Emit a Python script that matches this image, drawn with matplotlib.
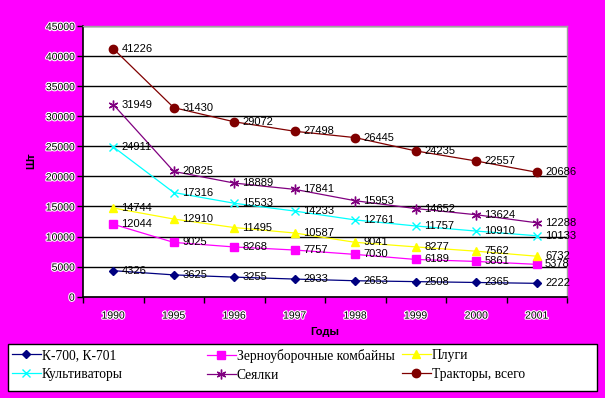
import matplotlib
matplotlib.use("Agg")
import matplotlib.pyplot as plt
import matplotlib.patheffects as pe
from matplotlib.patches import Rectangle

years = ["1990", "1995", "1996", "1997", "1998", "1999", "2000", "2001"]
k700 = [4326, 3625, 3255, 2933, 2653, 2508, 2365, 2222]
combines = [12044, 9025, 8268, 7757, 7030, 6189, 5861, 5378]
plows = [14744, 12910, 11495, 10587, 9041, 8277, 7562, 6732]
cultivators = [24911, 17316, 15533, 14233, 12761, 11757, 10910, 10133]
seeders = [31949, 20825, 18889, 17841, 15953, 14652, 13624, 12288]
tractors = [41226, 31430, 29072, 27498, 26445, 24235, 22557, 20686]

series = [
    ("К-700, К-701", k700, "#000080", "D", 4),
    ("Зерноуборочные комбайны", combines, "#FF00FF", "s", 6),
    ("Плуги", plows, "#FFFF00", "^", 6),
    ("Культиваторы", cultivators, "#00FFFF", "x", 6),
    ("Сеялки", seeders, "#800080", (6, 2, 0), 7),
    ("Тракторы, всего", tractors, "#800000", "o", 6),
]

fig = plt.figure(figsize=(6.05, 3.98), dpi=100, facecolor="#FF00FF")
ax = fig.add_axes([83 / 605, 1 - 296.7 / 398, 484 / 605, (296.7 - 26) / 398])
ax.set_facecolor("white")

x = list(range(len(years)))
handles = {}
for name, vals, col, mk, ms in series:
    (ln,) = ax.plot(x, vals, color=col, lw=0.9, marker=mk, ms=ms,
                    markerfacecolor=col, markeredgecolor=col, markeredgewidth=1.0,
                    zorder=3)
    handles[name] = ln
    for xi, v in zip(x, vals):
        ax.annotate(str(v), (xi, v), xytext=(6, 0), textcoords="offset points",
                    ha="left", va="center", fontsize=8, family="Liberation Sans",
                    color="black", zorder=4, annotation_clip=False)

ax.set_ylim(0, 45000)
ax.set_xlim(-0.5, len(years) - 0.5)
ax.set_yticks(range(0, 45001, 5000))
ax.yaxis.grid(True, color="black", lw=1.0)
ax.set_axisbelow(True)

ax.set_xticks(x)
ax.set_xticklabels(years)
ax.set_xticks([i - 0.5 for i in range(len(years) + 1)], minor=True)
ax.tick_params(axis="x", which="major", length=0, pad=10)
ax.tick_params(axis="x", which="minor", length=4, width=1, color="black", direction="out")
ax.tick_params(axis="y", length=4, width=1, color="black", direction="out", pad=2)

stroke = [pe.withStroke(linewidth=1.6, foreground="white")]
for lab in ax.get_xticklabels() + ax.get_yticklabels():
    lab.set_fontsize(7.5)
    lab.set_family("Liberation Sans")
    lab.set_path_effects(stroke)

for s in ["left", "bottom"]:
    ax.spines[s].set_color("black")
    ax.spines[s].set_linewidth(1.2)
for s in ["top", "right"]:
    ax.spines[s].set_color("#A0A0A0")
    ax.spines[s].set_linewidth(1.0)

fig.text(325 / 605, 1 - 332 / 398, "Годы", ha="center", va="center",
         fontsize=8, fontweight="bold", family="Liberation Sans")
fig.text(31 / 605, 1 - 161 / 398, "Шт", ha="center", va="center", rotation=90,
         fontsize=8, fontweight="bold", family="Liberation Sans")

# legend box
fig.patches.append(Rectangle((8 / 605, 1 - 391 / 398), 589 / 605, 47 / 398,
                             transform=fig.transFigure, facecolor="white",
                             edgecolor="black", lw=1.0, zorder=1))
columns = [["К-700, К-701", "Культиваторы"],
           ["Зерноуборочные комбайны", "Сеялки"],
           ["Плуги", "Тракторы, всего"]]
col_x = [12, 207, 402]
for cx, names in zip(col_x, columns):
    leg = fig.legend([handles[n] for n in names], names, ncol=1,
                     loc="upper left", bbox_to_anchor=(cx / 605, 1 - 349 / 398),
                     prop={"family": "Liberation Serif", "size": 9.8},
                     frameon=False, handlelength=2.1, handletextpad=0.1,
                     borderpad=0.0, labelspacing=0.45, borderaxespad=0)
    leg.set_zorder(2)

fig.savefig("out.png", dpi=100, facecolor=fig.get_facecolor())
